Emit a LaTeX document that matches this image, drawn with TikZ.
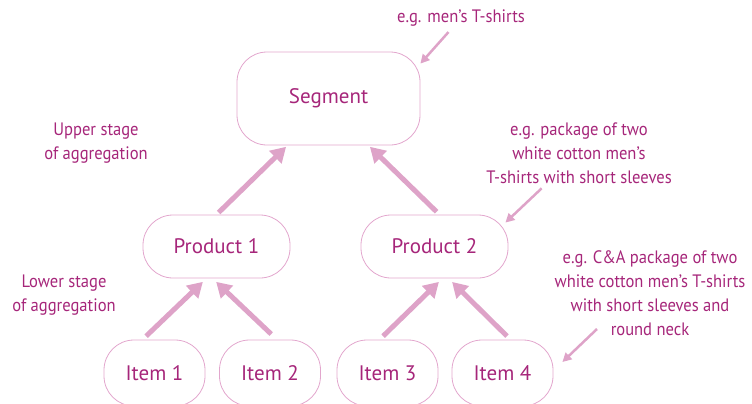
\documentclass[tikz,border=0pt]{standalone}
\usepackage{fontspec}
\setmainfont{PT Sans}
\newfontfamily\notefont{PT Sans}[FakeStretch=0.92, Ligatures=TeX]
\usepackage{tikz}
\usetikzlibrary{arrows.meta, positioning, calc}
\usepackage{xcolor}
\definecolor{labelpurple}{RGB}{166,38,122}
\definecolor{boxpink}{RGB}{226,166,205}
\definecolor{arrowpink}{RGB}{222,163,200}

\begin{document}
\begin{tikzpicture}[x=1bp, y=1bp,
    stage/.style={draw=boxpink, line width=0.8bp, rounded corners=30bp, text=labelpurple,
        font=\fontsize{21bp}{24bp}\selectfont, inner sep=0pt},
    note/.style={text=labelpurple, font=\notefont\fontsize{18bp}{24bp}\selectfont, align=center},
    bigarrow/.style={arrowpink, line width=5bp, -{Triangle[length=15bp, width=17bp]}},
    smallarrow/.style={arrowpink, line width=2.5bp, -{Triangle[length=9bp, width=9bp]}}]
    \useasboundingbox (0,0) rectangle (752,403);

    % Upper stage
    \node[stage, minimum width=183bp, minimum height=93bp] (seg) at (328.5,304.5) {Segment};

    % Products
    \node[stage, minimum width=147bp, minimum height=63bp] (prod1) at (216.5,156.5) {Product 1};
    \node[stage, minimum width=147bp, minimum height=63bp] (prod2) at (434.5,156.5) {Product 2};

    % Items
    \node[stage, minimum width=101bp, minimum height=66bp] (item1) at (154.5,30) {Item 1};
    \node[stage, minimum width=101bp, minimum height=66bp] (item2) at (270,30) {Item 2};
    \node[stage, minimum width=101bp, minimum height=66bp] (item3) at (387.5,30) {Item 3};
    \node[stage, minimum width=101bp, minimum height=66bp] (item4) at (502.5,30) {Item 4};

    % Aggregation arrows
    \draw[bigarrow, shorten <=3bp, shorten >=2bp] (prod1.north) -- ([xshift=-41bp]seg.south);
    \draw[bigarrow, shorten <=4bp, shorten >=2bp] ([xshift=5bp]prod2.north) -- ([xshift=40bp]seg.south);
    \draw[bigarrow, shorten <=5bp, shorten >=5bp] ([xshift=-12bp]item1.north) -- ([xshift=-10bp]prod1.south);
    \draw[bigarrow, shorten <=8bp, shorten >=5bp] ([xshift=7bp]item2.north) -- ([xshift=-4bp]prod1.south);
    \draw[bigarrow, shorten <=5bp, shorten >=5bp] ([xshift=-8bp]item3.north) -- ([xshift=8bp]prod2.south);
    \draw[bigarrow, shorten <=5bp, shorten >=5bp] ([xshift=8bp]item4.north) -- ([xshift=14bp]prod2.south);

    % Stage labels
    \node[note] (upper) at (96,259.5) {Upper stage\\of aggregation};
    \node[note] (lower) at (64,107.5) {Lower stage\\of aggregation};

    % Examples
    \node[note] (men) at (461,385) {e.g. men’s T-shirts};
    \node[note] (pack2) at (579,250) {e.g. package of two\\white cotton men’s\\T-shirts with short sleeves};
    \node[note] (pack4) at (650,110) {e.g. C\&A package of two\\white cotton men’s T-shirts\\with short sleeves and\\round neck};

    \coordinate (segtip) at ([yshift=-12bp]seg.north east);
    \coordinate (prod2tip) at ([shift={(-3bp,-8bp)}]prod2.north east);
    \coordinate (item4tip) at ([shift={(9bp,11bp)}]item4.east);
    \draw[smallarrow, shorten <=3bp] (men) -- (segtip);
    \draw[smallarrow, shorten <=2bp] (pack2) -- (prod2tip);
    \draw[smallarrow] ([shift={(-53bp,-36bp)}]pack4.center) -- (item4tip);
\end{tikzpicture}
\end{document}
